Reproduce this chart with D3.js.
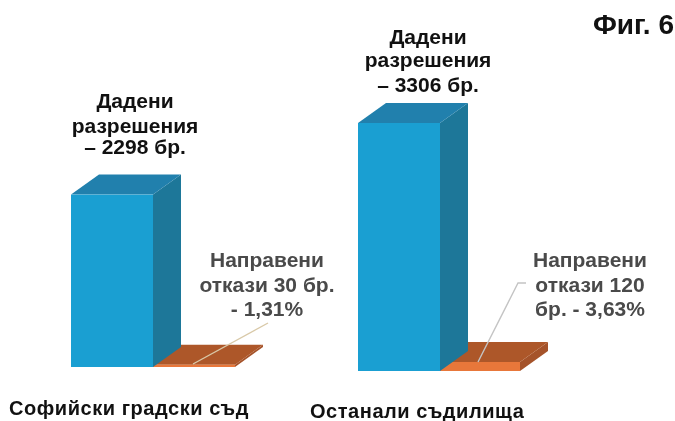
<!DOCTYPE html>
<html><head><meta charset="utf-8">
<script src="https://cdn.jsdelivr.net/npm/d3@7"></script>
<style>html,body{margin:0;padding:0;background:#fff}svg{display:block;filter:blur(0.5px)}
text{font-family:"Liberation Sans",Arial,sans-serif;font-weight:bold}</style>
</head><body><svg id="c" width="675" height="421"></svg>
<script>
const categories = ["Софийски градски съд", "Останали съдилища"];
const granted = [2298, 3306];
const refused = [30, 120];
const grantedLabels = [["Дадени","разрешения","– 2298 бр."],["Дадени","разрешения","– 3306 бр."]];
const refusedLabels = [["Направени","откази 30 бр.","- 1,31%"],["Направени","откази 120","бр. - 3,63%"]];
const figureTitle = "Фиг. 6";

const svg = d3.select("#c");
const y = d3.scaleLinear().domain([0, 3306]).range([0, 248]);
const x = d3.scaleOrdinal().domain(categories).range([71, 358]);
const base = d3.scaleOrdinal().domain(categories).range([367, 371]);
const barW = 82, dx = 28, dy = 20;
const poly = pts => d3.line()(pts) + "Z";

function box(g, x0, w, h, b, c) {
  const t = b - h;
  g.append("path").attr("d", poly([[x0+w,b],[x0+w+dx,b-dy],[x0+w+dx,t-dy],[x0+w,t]])).attr("fill", c.side);
  g.append("path").attr("d", poly([[x0,t],[x0+dx,t-dy],[x0+w+dx,t-dy],[x0+w,t]])).attr("fill", c.top);
  g.append("rect").attr("x", x0).attr("y", t).attr("width", w).attr("height", h).attr("fill", c.front);
}
const blue = {front:"#1a9fd2", side:"#1d7799", top:"#2180ad"};
const orange = {front:"#e8773a", side:"#a5532a", top:"#ad5729"};

categories.forEach((cat,i)=>{
  const g = svg.append("g");
  const x0 = x(cat), b = base(cat);
  box(g, x0 + barW - 2*i, barW, y(refused[i]), b, orange);
  box(g, x0, barW, y(granted[i]), b, blue);
});

const lines = [[[193,364],[268,323]], [[478,362],[518,283],[526,283]]];
const lineColors = ["#d9c9a8","#c4c4c4"];
lines.forEach((l,i)=>svg.append("path").attr("d",d3.line()(l)).attr("fill","none").attr("stroke",lineColors[i]).attr("stroke-width",1.4));

function multi(lines, cx, ys, size, fill){
  svg.append("g").selectAll("text").data(lines).join("text")
    .attr("x",cx).attr("y",(d,i)=>ys[i]).attr("text-anchor","middle")
    .attr("font-size",size).attr("fill",fill).text(d=>d);
}
multi(grantedLabels[0],135,[108,133,154],21,"#111");
multi(grantedLabels[1],428,[44,67,92],21,"#111");
multi(refusedLabels[0],267,[267,292,316],21,"#4a4a4a");
multi(refusedLabels[1],590,[267,292,316],21,"#4a4a4a");

svg.append("text").attr("x",674).attr("y",34).attr("text-anchor","end").attr("font-size",28).attr("fill","#111").text(figureTitle);
svg.append("text").attr("x",9).attr("y",415).attr("font-size",20).attr("letter-spacing",0.55).attr("fill","#111").text(categories[0]);
svg.append("text").attr("x",310).attr("y",418).attr("font-size",20).attr("letter-spacing",0.55).attr("fill","#111").text(categories[1]);
</script></body></html>
